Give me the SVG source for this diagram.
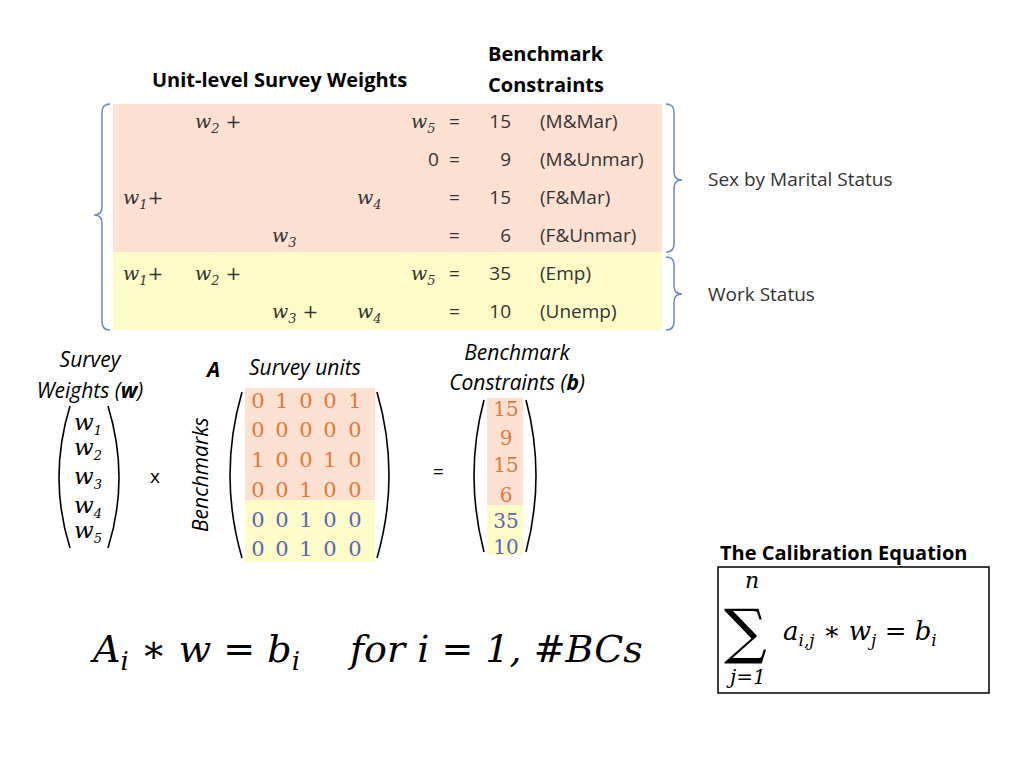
<svg xmlns="http://www.w3.org/2000/svg" width="1024" height="768" viewBox="0 0 1024 768">
<style>
.t{font-family:"Open Sans","Liberation Sans",sans-serif;fill:#333;font-size:19px}
.b{font-family:"Open Sans","Liberation Sans",sans-serif;font-weight:bold;fill:#000;font-size:20px}
.m{font-family:"DejaVu Serif","Liberation Serif",serif;font-style:italic;fill:#333;font-size:19px}
.s{font-size:13px}
.i{font-family:"Open Sans","Liberation Sans",sans-serif;font-style:italic;fill:#000;font-size:21px}
.o{font-family:"DejaVu Serif","Liberation Serif",serif;fill:#e07a3a;font-size:21px;text-anchor:middle}
.u{font-family:"DejaVu Serif","Liberation Serif",serif;fill:#5566bb;font-size:21px;text-anchor:middle}
.br{fill:none;stroke:#6a8cb8;stroke-width:1.5}
.p{fill:none;stroke:#000;stroke-width:1.6}
.big{font-family:"DejaVu Serif","Liberation Serif",serif;font-style:italic;fill:#000;font-size:38px}
</style>
<rect width="1024" height="768" fill="#fff"/>
<g id="table">
<rect x="113" y="104" width="549" height="148" fill="#fce0d2"/>
<rect x="113" y="252" width="549" height="78" fill="#fdfbc8"/>
<text class="b" x="152" y="87">Unit-level Survey Weights</text>
<text class="b" x="488" y="61">Benchmark</text>
<text class="b" x="488" y="92">Constraints</text>
<g class="m">
<text x="195" y="128">w<tspan class="s" dy="5">2</tspan><tspan dy="-5"> +</tspan></text>
<text x="411" y="128">w<tspan class="s" dy="5">5</tspan></text>
<text x="123" y="204">w<tspan class="s" dy="5">1</tspan><tspan dy="-5">+</tspan></text>
<text x="357" y="204">w<tspan class="s" dy="5">4</tspan></text>
<text x="272" y="242">w<tspan class="s" dy="5">3</tspan></text>
<text x="123" y="280">w<tspan class="s" dy="5">1</tspan><tspan dy="-5">+</tspan></text>
<text x="195" y="280">w<tspan class="s" dy="5">2</tspan><tspan dy="-5"> +</tspan></text>
<text x="411" y="280">w<tspan class="s" dy="5">5</tspan></text>
<text x="272" y="318">w<tspan class="s" dy="5">3</tspan><tspan dy="-5"> +</tspan></text>
<text x="357" y="318">w<tspan class="s" dy="5">4</tspan></text>
</g>
<g class="t">
<text x="428" y="166">0</text>
<text x="449" y="128">=</text><text x="449" y="166">=</text><text x="449" y="204">=</text><text x="449" y="242">=</text><text x="449" y="280">=</text><text x="449" y="318">=</text>
<g text-anchor="end"><text x="511" y="128">15</text><text x="511" y="166">9</text><text x="511" y="204">15</text><text x="511" y="242">6</text><text x="511" y="280">35</text><text x="511" y="318">10</text></g>
<text x="540" y="128">(M&amp;Mar)</text><text x="540" y="166">(M&amp;Unmar)</text><text x="540" y="204">(F&amp;Mar)</text><text x="540" y="242">(F&amp;Unmar)</text><text x="540" y="280">(Emp)</text><text x="540" y="318">(Unemp)</text>
<text x="708" y="186">Sex by Marital Status</text>
<text x="708" y="301">Work Status</text>
</g>
<path class="br" d="M110 104 Q102 104 102 112 V207 Q102 215 94 215 Q102 215 102 223 V322 Q102 330 110 330"/>
<path class="br" d="M666 104 Q674 104 674 112 V172 Q674 180 682 180 Q674 180 674 188 V244 Q674 252 666 252"/>
<path class="br" d="M666 257 Q674 257 674 265 V286 Q674 294 682 294 Q674 294 674 302 V322 Q674 330 666 330"/>
</g>
<g id="wvec">
<text class="i" x="90" y="367" text-anchor="middle">Survey</text>
<text class="i" x="90" y="398" text-anchor="middle">Weights (<tspan font-weight="bold">w</tspan>)</text>
<path class="p" d="M70 406 Q48 478 70 548"/><path class="p" d="M108 406 Q130 478 108 548"/>
<g class="m" style="font-size:23px;fill:#000">
<text x="74" y="430">w<tspan class="s" dy="5">1</tspan></text>
<text x="74" y="455">w<tspan class="s" dy="5">2</tspan></text>
<text x="74" y="484">w<tspan class="s" dy="5">3</tspan></text>
<text x="74" y="513">w<tspan class="s" dy="5">4</tspan></text>
<text x="74" y="538">w<tspan class="s" dy="5">5</tspan></text>
</g>
<text class="t" x="150" y="483" style="fill:#000">x</text>
</g>
<g id="matrixA">
<text class="i" x="207" y="377" font-weight="bold">A</text>
<text class="i" x="249" y="375">Survey units</text>
<text class="i" transform="translate(208,532) rotate(-90)">Benchmarks</text>
<rect x="245" y="388" width="130" height="112" fill="#fce0d2"/>
<rect x="245" y="500" width="130" height="62" fill="#fdfbc8"/>
<path class="p" d="M242 392 Q218 475 242 558"/><path class="p" d="M377 392 Q401 475 377 558"/>
<g class="o"><text x="258" y="408">0</text><text x="282" y="408">1</text><text x="306" y="408">0</text><text x="330" y="408">0</text><text x="355" y="408">1</text>
<text x="258" y="437">0</text><text x="282" y="437">0</text><text x="306" y="437">0</text><text x="330" y="437">0</text><text x="355" y="437">0</text>
<text x="258" y="467">1</text><text x="282" y="467">0</text><text x="306" y="467">0</text><text x="330" y="467">1</text><text x="355" y="467">0</text>
<text x="258" y="497">0</text><text x="282" y="497">0</text><text x="306" y="497">1</text><text x="330" y="497">0</text><text x="355" y="497">0</text></g>
<g class="u"><text x="258" y="527">0</text><text x="282" y="527">0</text><text x="306" y="527">1</text><text x="330" y="527">0</text><text x="355" y="527">0</text>
<text x="258" y="556">0</text><text x="282" y="556">0</text><text x="306" y="556">1</text><text x="330" y="556">0</text><text x="355" y="556">0</text></g>
<text class="t" x="433" y="478" style="fill:#000">=</text>
</g>
<g id="bvec">
<text class="i" x="517" y="360" text-anchor="middle">Benchmark</text>
<text class="i" x="517" y="390" text-anchor="middle">Constraints (<tspan font-weight="bold">b</tspan>)</text>
<rect x="487" y="398" width="36" height="107" fill="#fce0d2"/>
<rect x="487" y="505" width="36" height="50" fill="#fdfbc8"/>
<path class="p" d="M484 400 Q464 475 484 552"/><path class="p" d="M526 400 Q546 475 526 552"/>
<g class="o" style="font-size:20px"><text x="506" y="416">15</text><text x="506" y="445">9</text><text x="506" y="472">15</text><text x="506" y="502">6</text></g>
<g class="u" style="font-size:20px"><text x="506" y="528">35</text><text x="506" y="554">10</text></g>
</g>
<g id="eq">
<text class="big" x="93" y="662">A<tspan style="font-size:26px" dy="8">i</tspan><tspan dy="-8"> ∗ w = b</tspan><tspan style="font-size:26px" dy="8">i</tspan></text>
<text class="big" x="350" y="662">for i = 1, #BCs</text>
</g>
<g id="calib">
<text class="b" x="720" y="560">The Calibration Equation</text>
<rect x="718" y="567" width="271" height="126" fill="#fff" stroke="#000" stroke-width="1.5"/>
<text style="font-family:'DejaVu Serif',serif;font-size:60px" x="724" y="652">∑</text>
<text class="m" style="font-size:22px;fill:#000" x="745" y="588">n</text>
<text class="m" style="font-size:20px;fill:#000" x="730" y="684">j=1</text>
<text class="m" style="font-size:26px;fill:#000" x="783" y="640">a<tspan style="font-size:17px" dy="6">i,j</tspan><tspan dy="-6"> ∗ w</tspan><tspan style="font-size:17px" dy="6">j</tspan><tspan dy="-6"> = b</tspan><tspan style="font-size:17px" dy="6">i</tspan></text>
</g>
</svg>
